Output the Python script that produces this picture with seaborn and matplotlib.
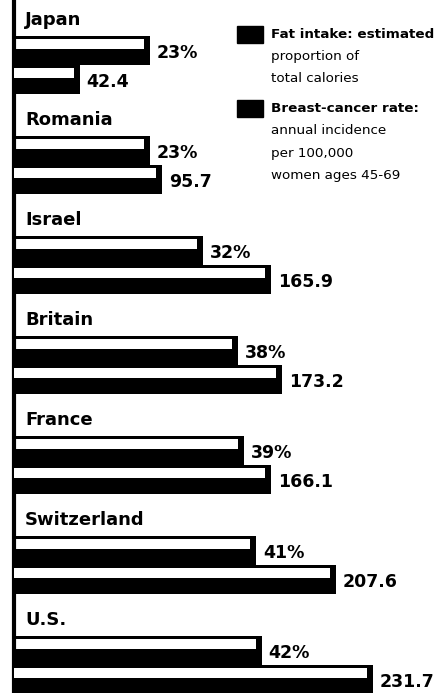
import pandas as pd
import seaborn as sns
import matplotlib.pyplot as plt
from matplotlib.patches import Rectangle

countries = ['Japan', 'Romania', 'Israel', 'Britain', 'France', 'Switzerland', 'U.S.']
fat_pct = [23, 23, 32, 38, 39, 41, 42]
cancer_rate = [42.4, 95.7, 165.9, 173.2, 166.1, 207.6, 231.7]
fat_labels = [f'{v}%' for v in fat_pct]
rate_labels = [f'{v:.1f}' for v in cancer_rate]
series = ['Fat intake', 'Breast-cancer rate']

legend_fat = ['Fat intake: estimated', 'proportion of', 'total calories']
legend_rate = ['Breast-cancer rate:', 'annual incidence', 'per 100,000', 'women ages 45-69']

df = pd.DataFrame({
    'country': countries * 2,
    'series': [series[0]] * len(countries) + [series[1]] * len(countries),
    'value': fat_pct + cancer_rate,
})

sns.set_theme(style='white')
plt.rcParams['font.family'] = ['DejaVu Sans']

W, H = 440, 693
fig = plt.figure(figsize=(W / 100, H / 100), dpi=100)
left_px = 14
ax = fig.add_axes([left_px / W, 0, 1 - left_px / W, 1])
ax2 = ax.twiny()
axw = W - left_px

bar_kw = dict(y='country', x='value', hue='series', hue_order=series, dodge=True,
              width=0.58, order=countries, palette={s: 'black' for s in series},
              saturation=1, errorbar=None, legend=False, orient='h',
              edgecolor='black', linewidth=0)
sns.barplot(data=df[df.series == series[0]], ax=ax, **bar_kw)
sns.barplot(data=df[df.series == series[1]], ax=ax2, **bar_kw)

# separate scales: ~5.9 px per % and ~1.55 px per case
ax.set_xlim(0, axw / 5.9)
ax2.set_xlim(0, axw / 1.55)
ax.set_ylim(6.28, -0.65)

for a, labels in ((ax, fat_labels), (ax2, rate_labels)):
    bars = sorted([p for p in a.patches if p.get_width() > 0], key=lambda p: p.get_y())
    px = a.get_xlim()[1] / axw
    for p, lbl in zip(bars, labels):
        h = p.get_height()
        # white highlight strip on the top of each bar (printed 3-D look)
        a.add_patch(Rectangle((p.get_x(), p.get_y() + 0.1 * h),
                              p.get_width() - 6 * px, 0.36 * h,
                              facecolor='white', edgecolor='none',
                              zorder=p.get_zorder() + 0.1))
        a.annotate(lbl, (p.get_x() + p.get_width(), p.get_y() + h / 2),
                   xytext=(5, -1.5), textcoords='offset points', ha='left', va='center',
                   fontsize=12.5, fontweight='bold', color='black')

for i, c in enumerate(countries):
    ax.text((25 - left_px) / axw, i - 0.45, c, transform=ax.get_yaxis_transform(),
            ha='left', va='center', fontsize=13, fontweight='bold', color='black')

for a in (ax, ax2):
    a.set_xticks([])
    a.set_xlabel('')
    a.set_ylabel('')
    for s in ('top', 'right', 'bottom'):
        a.spines[s].set_visible(False)
ax.set_yticks([])
ax2.spines['left'].set_visible(False)
ax.spines['left'].set_linewidth(3)
ax.spines['left'].set_color('black')


def legend_block(top_px, lines):
    fig.add_artist(Rectangle((237 / W, 1 - (top_px + 17) / H), 26 / W, 17 / H,
                             transform=fig.transFigure, color='black'))
    for k, line in enumerate(lines):
        fig.text(271 / W, 1 - (top_px + 8 + k * 22.5) / H, line, ha='left', va='center',
                 fontsize=9.7, fontweight='bold' if k == 0 else 'normal', color='black')


legend_block(26, legend_fat)
legend_block(100, legend_rate)

fig.savefig('out.png', dpi=100)
